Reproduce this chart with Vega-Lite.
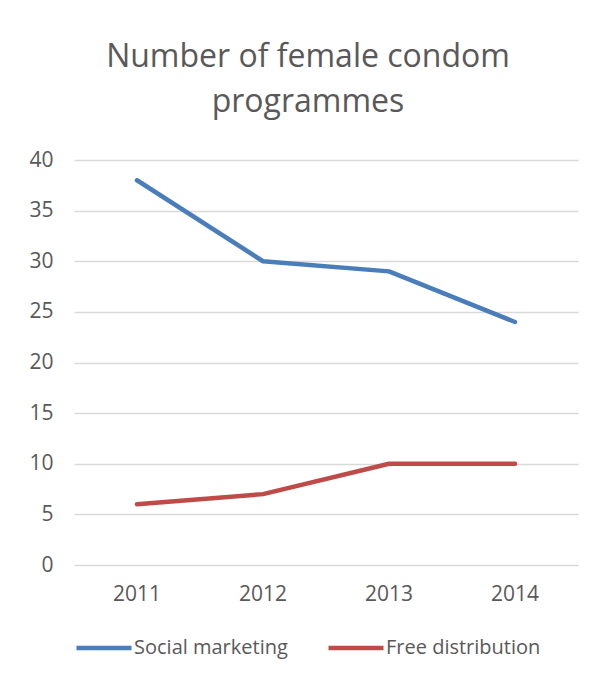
{
  "$schema": "https://vega.github.io/schema/vega-lite/v6.json",
  "width": 504,
  "height": 405,
  "autosize": {"type": "none"},
  "padding": {"left": 74, "top": 160, "right": 16, "bottom": 115},
  "background": "white",
  "title": {
    "text": ["Number of female condom", "programmes"],
    "anchor": "middle",
    "frame": "group",
    "font": "Open Sans",
    "fontSize": 32,
    "fontWeight": "normal",
    "color": "#595959",
    "lineHeight": 45,
    "dx": -18,
    "offset": 30
  },
  "data": {
    "values": [
      {"year": "2011", "series": "Social marketing", "value": 38},
      {"year": "2012", "series": "Social marketing", "value": 30},
      {"year": "2013", "series": "Social marketing", "value": 29},
      {"year": "2014", "series": "Social marketing", "value": 24},
      {"year": "2011", "series": "Free distribution", "value": 6},
      {"year": "2012", "series": "Free distribution", "value": 7},
      {"year": "2013", "series": "Free distribution", "value": 10},
      {"year": "2014", "series": "Free distribution", "value": 10}
    ]
  },
  "mark": {"type": "line", "strokeWidth": 4.5, "strokeCap": "round", "strokeJoin": "round"},
  "encoding": {
    "x": {
      "field": "year",
      "type": "ordinal",
      "scale": {"type": "band", "paddingInner": 0, "paddingOuter": 0},
      "axis": {
        "title": null,
        "labelAngle": 0,
        "ticks": false,
        "domain": false,
        "grid": false,
        "labelFont": "Open Sans",
        "labelFontSize": 21,
        "labelColor": "#595959",
        "labelPadding": 18
      }
    },
    "y": {
      "field": "value",
      "type": "quantitative",
      "scale": {"domain": [0, 40], "nice": false},
      "axis": {
        "title": null,
        "values": [0, 5, 10, 15, 20, 25, 30, 35, 40],
        "ticks": false,
        "domain": false,
        "grid": true,
        "gridColor": "#d9d9d9",
        "gridWidth": 1.3,
        "labelFont": "Open Sans",
        "labelFontSize": 21,
        "labelColor": "#595959",
        "labelPadding": 21
      }
    },
    "color": {
      "field": "series",
      "type": "nominal",
      "scale": {"domain": ["Social marketing", "Free distribution"], "range": ["#4a7ebb", "#be4b48"]},
      "legend": {
        "title": null,
        "orient": "none",
        "legendX": 0,
        "legendY": 458,
        "direction": "horizontal",
        "columns": 2,
        "columnPadding": 31,
        "symbolType": "stroke",
        "symbolSize": 3025,
        "symbolStrokeWidth": 4.5,
        "labelFont": "Open Sans",
        "labelFontSize": 20,
        "labelLimit": 400,
        "labelColor": "#595959",
        "labelOffset": 0
      }
    }
  },
  "config": {"view": {"stroke": null}}
}
